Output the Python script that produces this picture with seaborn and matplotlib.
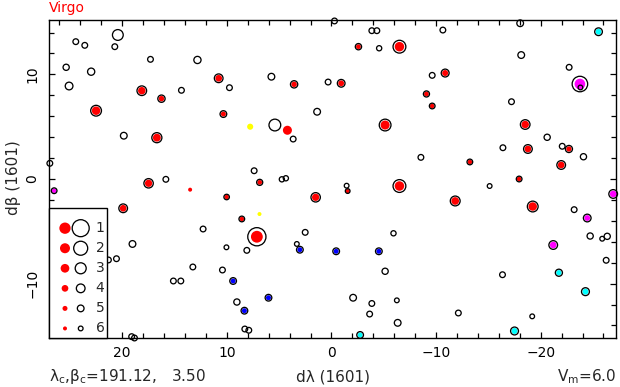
import numpy as np
import pandas as pd
import matplotlib
matplotlib.use("Agg")
import matplotlib.pyplot as plt
from matplotlib.patches import Rectangle
from matplotlib.ticker import MultipleLocator
import seaborn as sns

# ---------------- data ----------------
# stars without colour (open circles): dλ, dβ, magnitude
open_dl = [20.42, 24.44, 23.58, 20.71, 17.30, 12.81, 25.36, 22.97, 25.08, 9.75,
           14.34, 19.85, 26.92, -0.29, -3.86, -4.34, -4.56, 5.74, 0.32, 1.37,
           5.41, 3.66, -8.55, 7.39, -10.65, -18.04, -18.14, -22.72, -9.63, -17.21,
           -20.62, -16.39, -22.06, -24.09, 15.83, 12.27, 19.02, 10.04, 21.32, 20.55,
           13.25, 10.42, 15.11, 14.40, 9.04, 19.10, 18.83, 4.74, 4.36, -1.45,
           2.51, -5.93, 8.09, 3.31, -5.13, -2.07, -3.86, -6.25, -3.65, -6.33,
           8.28, 7.90, -15.12, -23.20, -24.73, -25.88, -26.36, -26.26, -16.35, -12.13,
           -19.19]
open_db = [13.77, 13.13, 12.78, 12.65, 11.44, 11.38, 10.68, 10.26, 8.89, 8.73,
           8.48, 4.14, 1.50, 15.11, 14.18, 14.18, 12.50, 9.78, 9.27, 6.43,
           5.16, 3.82, 2.07, 0.79, 14.24, 14.89, 11.85, 10.68, 9.91, 7.39,
           3.99, 2.99, 3.13, 2.13, -0.03, -4.78, -6.21, -6.53, -7.74, -7.62,
           -8.41, -8.70, -9.75, -9.75, -11.76, -15.07, -15.20, -0.03, 0.07, -0.64,
           -5.10, -5.19, -6.82, -6.21, -8.82, -11.35, -11.90, -11.60, -12.91, -13.75,
           -14.34, -14.46, -0.67, -2.93, -5.45, -5.71, -5.48, -7.77, -9.15, -12.81,
           -13.13]
open_mag = [3.1, 5.5, 5.5, 5.5, 5.5, 4.75, 5.25, 4.75, 4.5, 5.5,
            5.5, 5.0, 5.5, 5.5, 5.5, 5.5, 5.75, 5.0, 5.5, 5.0,
            2.75, 5.5, 5.5, 5.5, 5.5, 5.0, 5.0, 5.5, 5.5, 5.5,
            5.25, 5.5, 5.5, 5.25, 5.5, 5.5, 5.0, 6.0, 5.5, 5.5,
            5.5, 5.5, 5.5, 5.5, 5.25, 5.5, 5.5, 5.75, 5.75, 6.0,
            5.5, 5.75, 5.5, 6.0, 5.25, 5.0, 5.5, 6.0, 5.5, 5.0,
            5.5, 5.5, 6.0, 5.5, 5.25, 6.0, 5.25, 5.5, 5.5, 5.5,
            6.0]

# coloured stars (filled dot inside a ring)
col_dl = [10.78, 18.13, 16.25, 22.50, 10.33, 16.69, -2.58, -6.50, 3.57, -0.93,
          -5.13, -10.87, -9.08, -9.63, -18.52, -18.78, -22.70, -13.23, -21.96, -17.94,
          17.48, 10.02, 19.91, 6.86, -1.55, -6.50, 1.51, 8.57, 7.13, -11.83,
          -19.24,
          -23.75, -23.80, 26.51, -26.93, -24.45, -21.20,
          -25.53, -2.74, -21.74, -24.28, -17.50,
          9.40, 3.02, -0.45, -4.53, 6.02, 8.32]
col_db = [9.63, 8.44, 7.68, 6.53, 6.21, 3.95, 12.65, 12.65, 9.05, 9.15,
          5.16, 10.13, 8.13, 6.98, 5.21, 2.87, 2.87, 1.63, 1.34, 0.00,
          -0.41, -1.72, -2.80, -0.32, -1.15, -0.67, -1.75, -3.82, -5.52, -2.10,
          -2.63,
          9.08, 8.75, -1.12, -1.43, -3.73, -6.31,
          14.08, -14.91, -8.96, -10.77, -14.53,
          -9.75, -6.76, -6.91, -6.91, -11.35, -12.59]
col_mag = [4.0, 3.6, 4.7, 3.1, 5.0, 3.4, 5.2, 2.4, 4.7, 4.5,
           2.75, 4.4, 5.3, 5.5, 3.6, 4.0, 4.8, 5.5, 4.0, 5.5,
           3.7, 5.6, 4.0, 5.3, 6.0, 2.4, 3.7, 5.5, 0.6, 3.5,
           3.1,
           1.5, 6.0, 5.5, 4.0, 4.5, 4.0,
           4.5, 5.0, 4.8, 4.4, 4.4,
           5.0, 5.0, 5.0, 5.0, 5.0, 5.0]
col_type = (["red"] * 31 + ["magenta"] * 6 + ["cyan"] * 5 + ["blue"] * 6)

# coloured dots without ring
dot_dl = [7.77, 6.88, 4.21, 13.51]
dot_db = [5.00, -3.35, 4.66, -1.02]
dot_mag = [4.35, 6.0, 2.75, 6.0]
dot_type = ["yellow", "yellow", "red", "red"]

legend_mag = [1, 2, 3, 4, 5, 6]
legend_labels = ["1", "2", "3", "4", "5", "6"]

xticks = [20, 10, 0, -10, -20]
yticks = [-10, 0, 10]

# ---------------- styling helpers ----------------
palette = {"red": "#ff0000", "magenta": "#ff00ff", "cyan": "#00ffff",
           "blue": "#0000ff", "yellow": "#ffff00"}
DPI = 100
PX = 72.0 / DPI
LW_PX = 1.3


def ring_size(m):
    d = np.interp(np.asarray(m, float), [0, 1, 2, 3, 4, 5, 6],
                  [21.3, 18.3, 15.3, 12.3, 10.0, 8.0, 6.0])
    return ((d - LW_PX) * PX) ** 2


def dot_size(m):
    d = np.interp(np.asarray(m, float), [0, 1, 2, 3, 4, 5, 6],
                  [12.6, 11.3, 10.0, 8.7, 6.7, 5.0, 4.0])
    return (d * PX) ** 2


sns.set_style("ticks")
plt.rcParams["font.family"] = ["DejaVu Sans"]

fig = plt.figure(figsize=(6.2, 3.87), dpi=DPI)
ax = fig.add_axes([49 / 620, (387 - 338) / 387, 567 / 620, 318.3 / 387])

df_open = pd.DataFrame({"dl": open_dl, "db": open_db, "mag": open_mag})
df_col = pd.DataFrame({"dl": col_dl, "db": col_db, "mag": col_mag, "type": col_type})
df_dot = pd.DataFrame({"dl": dot_dl, "db": dot_db, "mag": dot_mag, "type": dot_type})

# open rings
sns.scatterplot(data=df_open, x="dl", y="db", ax=ax, s=ring_size(df_open["mag"]),
                facecolor="none", edgecolor="black", linewidth=LW_PX * PX,
                legend=False, clip_on=False, zorder=2)
# coloured dots
sns.scatterplot(data=df_col, x="dl", y="db", hue="type", palette=palette, ax=ax,
                s=dot_size(df_col["mag"]), linewidth=0, legend=False,
                clip_on=False, zorder=3)
# rings around coloured dots
sns.scatterplot(data=df_col, x="dl", y="db", ax=ax, s=ring_size(df_col["mag"]),
                facecolor="none", edgecolor="black", linewidth=LW_PX * PX,
                legend=False, clip_on=False, zorder=4)
# dots without ring
sns.scatterplot(data=df_dot, x="dl", y="db", hue="type", palette=palette, ax=ax,
                s=dot_size(df_dot["mag"]), linewidth=0, legend=False,
                clip_on=False, zorder=3)

ax.set_xlim(27.0, -27.2)
ax.set_ylim(-15.2, 15.23)
ax.set_xticks(xticks)
ax.set_yticks(yticks)
ax.xaxis.set_minor_locator(MultipleLocator(2))
ax.yaxis.set_minor_locator(MultipleLocator(2))
ax.tick_params(which="both", direction="in", top=True, right=True,
               color="black", width=0.9)
ax.tick_params(which="major", length=4.2, labelsize=10, labelcolor="black")
ax.tick_params(which="minor", length=3.4)
ax.tick_params(axis="x", pad=6)
ax.tick_params(axis="y", pad=7)
for lab in ax.get_yticklabels():
    lab.set_rotation(90)
    lab.set_va("center")
for sp in ax.spines.values():
    sp.set_color("black")
    sp.set_linewidth(1.0)
ax.set_xlabel("")
ax.set_ylabel("")

# legend box
ax.add_patch(Rectangle((0, 0), 0.1028, 0.408, transform=ax.transAxes,
                       facecolor="white", edgecolor="black", linewidth=1.0,
                       zorder=6, clip_on=False))
leg_y = [0.345, 0.282, 0.219, 0.156, 0.093, 0.030]
ax.scatter([0.0282] * 6, leg_y, s=dot_size(legend_mag), color=palette["red"],
           linewidth=0, transform=ax.transAxes, zorder=7, clip_on=False)
ax.scatter([0.0559] * 6, leg_y, s=ring_size(legend_mag), facecolor="none",
           edgecolor="black", linewidth=LW_PX * PX, transform=ax.transAxes,
           zorder=7, clip_on=False)
for yy, lab in zip(leg_y, legend_labels):
    ax.text(0.09, yy, lab, transform=ax.transAxes, ha="center", va="center",
            fontsize=10, zorder=8)

# texts
fig.text(49 / 620, 1 - 12.3 / 387, "Virgo", color="#ff0000", fontsize=10,
         ha="left", va="baseline")
fig.text(14 / 620, 1 - 178 / 387, "dβ (1601)", rotation=90, fontsize=11,
         ha="center", va="center")
fig.text(332.5 / 620, 1 - 381 / 387, "dλ (1601)", fontsize=11,
         ha="center", va="baseline")
fig.text(49 / 620, 1 - 381 / 387,
         "λ$_\\mathregular{c}$,β$_\\mathregular{c}$=191.12,   3.50",
         fontsize=11, ha="left", va="baseline")
fig.text(616 / 620, 1 - 381 / 387, "V$_\\mathregular{m}$=6.0", fontsize=11,
         ha="right", va="baseline")

fig.savefig("out.png", dpi=DPI)
